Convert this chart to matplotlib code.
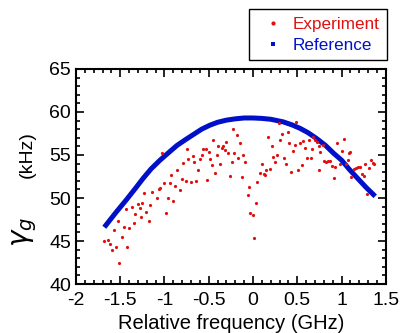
import matplotlib.pyplot as plt
from matplotlib.lines import Line2D
from matplotlib.ticker import MultipleLocator

plt.rcParams['font.family'] = ['Liberation Sans', 'DejaVu Sans']

# measured linewidth (kHz) vs relative frequency (GHz)
exp_freq = [-1.68, -1.64, -1.61, -1.59, -1.55, -1.51, -1.57, -1.52, -1.48, -1.46,
            -1.44, -1.42, -1.40, -1.37, -1.34, -1.33, -1.30, -1.28, -1.26, -1.25,
            -1.23, -1.21, -1.18, -1.16, -1.14, -1.09, -1.06, -1.05, -1.03, -1.01,
            -0.98, -0.96, -0.94, -0.93, -0.90, -0.88, -0.86, -0.83, -0.80, -0.79,
            -0.76, -0.75, -0.73, -0.70, -0.68, -0.67, -0.64, -0.62, -0.60, -0.58,
            -0.56, -0.53, -0.52, -0.50, -0.49, -0.46, -0.45, -0.43, -0.41, -0.39,
            -0.37, -0.35, -0.34, -0.32, -0.30, -0.28, -0.26, -0.24, -0.23, -0.21,
            -0.18, -0.17, -0.15, -0.12, -0.11, -0.09, -0.06, -0.04, -0.03, 0.00,
            0.01, 0.03, 0.05, 0.08, 0.10, 0.12, 0.14, 0.15, 0.17, 0.19,
            0.21, 0.23, 0.25, 0.27, 0.29, 0.31, 0.33, 0.35, 0.37, 0.39,
            0.41, 0.43, 0.45, 0.47, 0.49, 0.51, 0.53, 0.55, 0.57, 0.59,
            0.61, 0.63, 0.65, 0.67, 0.68, 0.70, 0.72, 0.74, 0.75, 0.76,
            0.79, 0.80, 0.82, 0.85, 0.87, 0.89, 0.91, 0.93, 0.95, 0.98,
            1.01, 1.03, 1.05, 1.07, 1.08, 1.09, 1.11, 1.14, 1.16, 1.19,
            1.21, 1.23, 1.25, 1.27, 1.29, 1.31, 1.33, 1.35, 1.37]
exp_gamma = [45.0, 45.1, 44.7, 44.0, 44.3, 42.4, 46.3, 47.3, 45.5, 46.6,
             48.7, 44.3, 46.5, 49.0, 47.1, 48.1, 49.3, 48.8, 47.8, 49.4,
             50.6, 48.4, 47.3, 49.2, 50.7, 50.0, 51.0, 51.2, 55.2, 51.7,
             48.2, 50.0, 51.7, 52.7, 49.6, 51.4, 53.3, 50.9, 52.2, 54.1,
             52.0, 55.7, 54.5, 51.9, 54.9, 54.2, 52.0, 53.3, 54.5, 55.0,
             55.7, 55.7, 52.1, 55.4, 54.5, 53.8, 56.7, 52.9, 55.0, 56.0,
             54.0, 55.8, 56.1, 55.6, 56.5, 55.2, 52.5, 54.2, 58.0, 55.2,
             57.3, 54.6, 56.4, 52.4, 55.0, 54.2, 50.3, 51.3, 48.3, 48.0,
             45.3, 49.4, 51.9, 52.9, 53.9, 52.8, 52.7, 53.3, 57.1, 53.4,
             56.0, 54.8, 54.2, 55.0, 58.7, 56.7, 57.4, 54.7, 54.0, 57.7,
             56.4, 53.0, 55.5, 56.2, 58.8, 53.3, 56.4, 53.8, 56.6, 55.8,
             54.7, 56.7, 54.6, 55.7, 57.1, 56.7, 56.5, 56.0, 53.3, 55.3,
             56.2, 54.3, 54.2, 54.3, 54.3, 53.7, 52.3, 53.6, 56.4, 54.0,
             55.5, 56.8, 54.0, 54.4, 55.2, 55.3, 52.4, 53.4, 53.5, 53.6,
             53.6, 52.8, 52.6, 54.0, 50.5, 53.5, 54.4, 54.1, 53.9]

# reference curve
ref_freq = [-1.68, -1.55, -1.43, -1.33, -1.24, -1.15, -1.05, -0.95, -0.86, -0.76,
            -0.67, -0.58, -0.49, -0.40, -0.30, -0.20, -0.10, 0.00, 0.10, 0.20,
            0.34, 0.44, 0.53, 0.62, 0.72, 0.82, 0.91, 1.00, 1.09, 1.18,
            1.28, 1.38]
ref_gamma = [46.6, 48.3, 49.8, 51.1, 52.3, 53.4, 54.4, 55.3, 56.1, 56.8,
             57.4, 58.0, 58.45, 58.8, 59.05, 59.2, 59.3, 59.3, 59.25, 59.15,
             58.85, 58.5, 58.1, 57.6, 56.9, 56.1, 55.2, 54.4, 53.3, 52.3,
             51.2, 50.2]

red = '#e01010'
blue = '#0010c8'

fig = plt.figure(figsize=(4.04, 3.33), dpi=100)
ax = fig.add_axes([0.188, 0.147, 0.767, 0.646])

ax.plot(ref_freq, ref_gamma, color=blue, lw=3.6, solid_capstyle='butt')
ax.plot(exp_freq, exp_gamma, 'o', color=red, ms=2.3, mew=0)

ax.set_xlim(-2, 1.5)
ax.set_ylim(40, 65)
ax.xaxis.set_major_locator(MultipleLocator(0.5))
ax.xaxis.set_minor_locator(MultipleLocator(0.1))
ax.yaxis.set_major_locator(MultipleLocator(5))
ax.yaxis.set_minor_locator(MultipleLocator(1))
ax.tick_params(which='both', direction='in', top=True, right=True, labelsize=14, width=1.2)
ax.tick_params(which='major', length=6)
ax.tick_params(which='minor', length=3)
ax.tick_params(axis='x', pad=6)
ax.set_xticks([-2, -1.5, -1, -0.5, 0, 0.5, 1, 1.5])
ax.set_xticklabels(['-2', '-1.5', '-1', '-0.5', '0', '0.5', '1', '1.5'])
for s in ax.spines.values():
    s.set_linewidth(1.5)

ax.set_xlabel('Relative frequency (GHz)', fontsize=14.5, labelpad=3)
fig.text(0.062, 0.303, r'$\gamma_g$', fontsize=20, rotation=90, ha='center', va='center')
fig.text(0.067, 0.535, '(kHz)', fontsize=14, rotation=90, ha='center', va='center')

handles = [Line2D([], [], ls='none', marker='o', ms=3, color=red, mew=0),
           Line2D([], [], ls='none', marker='s', ms=3, color=blue, mew=0)]
leg = fig.legend(handles, ['Experiment', 'Reference'], loc='upper right',
                 bbox_to_anchor=(387 / 404, 1 - 9 / 333), borderaxespad=0,
                 fontsize=12.3, fancybox=False, edgecolor='black', framealpha=1,
                 labelcolor=[red, blue], handlelength=1.9, handletextpad=0.2,
                 labelspacing=0.35, borderpad=0.45)
leg.get_frame().set_linewidth(1.0)

fig.savefig('out.png', dpi=100)
